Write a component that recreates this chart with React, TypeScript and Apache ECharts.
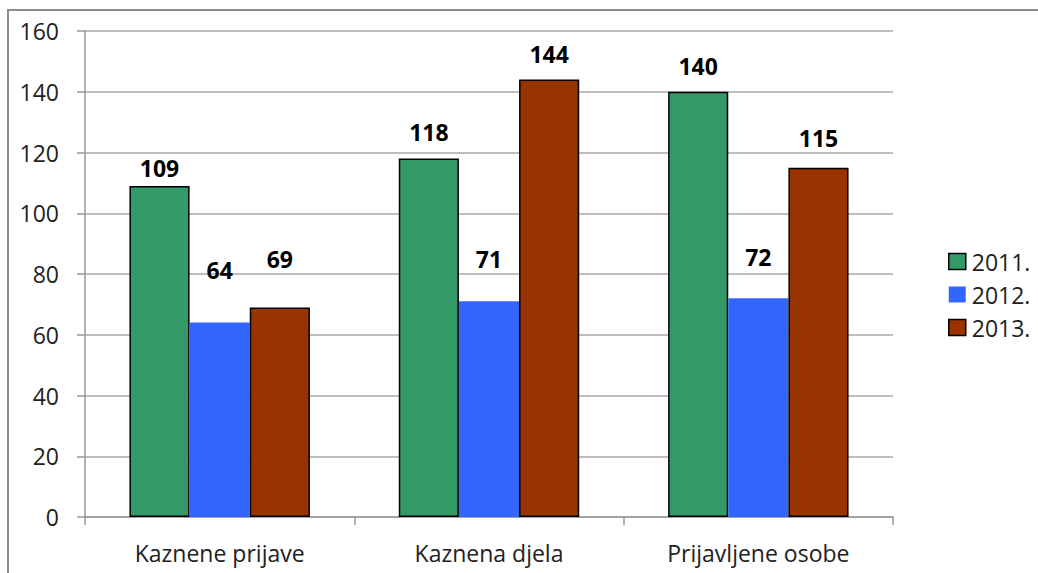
import React, { useEffect, useRef } from "react";
import * as echarts from "echarts";

const categories = ["Kaznene prijave", "Kaznena djela", "Prijavljene osobe"];
const seriesNames = ["2011.", "2012.", "2013."];
const values2011 = [109, 118, 140];
const values2012 = [64, 71, 72];
const values2013 = [69, 144, 115];
// extra lift of each value label above its bar (px), as placed in the original
const labelLift2011 = [0, 9, 8];
const labelLift2012 = [35, 25, 24];
const labelLift2013 = [31, 8, 12];
const colors = ["#339966", "#3366FF", "#993300"];
const borders = [1.5, 0, 1.5];

export default function App() {
  const ref = useRef<HTMLDivElement>(null);
  useEffect(() => {
    if (!ref.current) return;
    const chart = echarts.init(ref.current, null, { renderer: "svg" });
    const font = "Open Sans";
    const data = [values2011, values2012, values2013];
    const lifts = [labelLift2011, labelLift2012, labelLift2013];
    chart.setOption({
      animation: false,
      textStyle: { fontFamily: font },
      graphic: [
        {
          type: "rect",
          shape: { x: 8, y: 10, width: 1060, height: 620 },
          style: { fill: "none", stroke: "#8c8c8c", lineWidth: 2 },
          silent: true,
        },
      ],
      grid: { left: 85, top: 31, right: 145, bottom: 56, containLabel: false },
      legend: {
        orient: "vertical",
        left: 948,
        top: 250,
        padding: 0,
        itemWidth: 17,
        itemHeight: 16,
        itemGap: 10,
        textStyle: { fontSize: 23, color: "#222", fontFamily: font, padding: [0, 0, 0, 1] },
        data: seriesNames.map((n, i) => ({
          name: n,
          icon: "rect",
          itemStyle: { color: colors[i], borderColor: "#000", borderWidth: borders[i] },
        })),
      },
      xAxis: {
        type: "category",
        data: categories,
        axisLine: { lineStyle: { color: "#999", width: 1.5 } },
        axisTick: { show: true, length: 8, lineStyle: { color: "#999", width: 1.5 } },
        axisLabel: { fontSize: 23, color: "#222", margin: 24, fontFamily: font },
        splitLine: { show: false },
      },
      yAxis: {
        type: "value",
        min: 0,
        max: 160,
        interval: 20,
        axisLine: { show: true, lineStyle: { color: "#999", width: 1.5 } },
        axisTick: { show: true, length: 8, inside: false, lineStyle: { color: "#999", width: 1.5 } },
        axisLabel: { fontSize: 23, color: "#222", margin: 26, fontFamily: font },
        splitLine: { lineStyle: { color: "#aaa", width: 1.5 } },
      },
      series: seriesNames.map((n, i) => ({
        name: n,
        type: "bar",
        data: data[i].map((v, j) => ({ value: v, label: { distance: 6 + lifts[i][j] } })),
        barGap: "0%",
        barCategoryGap: "33%",
        itemStyle: { color: colors[i], borderColor: "#000", borderWidth: borders[i] },
        label: {
          show: true,
          position: "top",
          distance: 6,
          fontSize: 23,
          fontWeight: "bold",
          color: "#000",
          fontFamily: font,
        },
      })),
    });
    return () => chart.dispose();
  }, []);
  return (
    <div
      ref={ref}
      style={{ position: "fixed", left: 0, top: 0, width: 1038, height: 573, background: "#fff" }}
    />
  );
}
